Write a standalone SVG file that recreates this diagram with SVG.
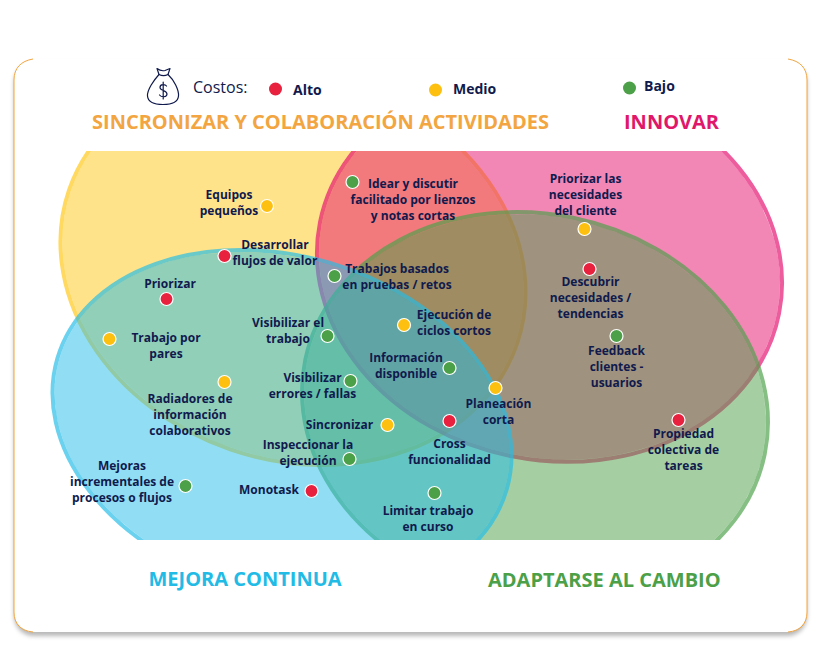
<svg xmlns="http://www.w3.org/2000/svg" width="820" height="654" viewBox="0 0 820 654">
<style>
text{font-family:"Open Sans","Noto Sans","Liberation Sans",sans-serif;font-weight:700;fill:#101a4d}
.l{font-size:12px;text-anchor:middle}
.lg{font-size:14px}
.t{font-size:20px}
.f{fill-opacity:.5}
.s{fill:none;stroke-width:4;stroke-opacity:.68}
.d{stroke:#fff;stroke-width:1.2}
.r{fill:#e8213f}.y{fill:#fdc010}.g{fill:#4ca048}
.i{fill:none;stroke:#101a4d;stroke-width:1.2;stroke-linecap:round;stroke-linejoin:round}
</style>
<defs>
<filter id="sh" x="-5%" y="-5%" width="110%" height="110%"><feDropShadow dx="0" dy="4" stdDeviation="2" flood-color="#000" flood-opacity=".28"/></filter>
<clipPath id="cl"><rect x="0" y="151" width="820" height="389"/></clipPath>
</defs>
<rect width="820" height="654" fill="#fff"/>
<g id="card">
<rect x="14" y="59" width="793" height="573" rx="20" fill="#fff" filter="url(#sh)"/>
<path d="M33 59C21 61 14 68 14 80V612C14 624 21 631 33 632M788 59C800 61 807 68 807 80V612C807 624 800 631 788 632" fill="none" stroke="#f2a540" stroke-width="1"/>
</g>
<g id="venn" clip-path="url(#cl)">
<g transform="rotate(19 293 267)"><ellipse class="f" cx="293" cy="267" rx="234.800" ry="190.900" fill="#ffc715"/><ellipse class="s" cx="293" cy="267" rx="236.800" ry="192.900" stroke="#ffc715"/></g>
<g transform="rotate(11.25 549.500 268)"><ellipse class="f" cx="549.500" cy="268" rx="232" ry="190" fill="#e5106e"/><ellipse class="s" cx="549.500" cy="268" rx="234" ry="192" stroke="#e5106e"/></g>
<g transform="rotate(11.650 535 407)"><ellipse class="f" cx="535" cy="407" rx="232.500" ry="191" fill="#4ca048"/><ellipse class="s" cx="535" cy="407" rx="234.500" ry="193" stroke="#4ca048"/></g>
<g transform="rotate(16.300 282 424)"><ellipse class="f" cx="282" cy="424" rx="232" ry="166" fill="#24bce8"/><ellipse class="s" cx="282" cy="424" rx="234" ry="168" stroke="#24bce8"/></g>
</g>
<g id="legend">
<g id="bag">
<path class="i" d="M157 68.500C159 70 163 71 165 70.500L170 68.500L168 74.500C174 80 179 90 178.500 96C178 102 172 104.500 163 104.500C154 104.500 148 102 147.500 96C147 90 154 80 159 74.500Z"/>
<path class="i" d="M159 74.500C162 76 165 76 168 74.500"/>
<path class="i" d="M166.500 86C165 84 160 84 160 87.500C160 91 167 90 167 94C167 97.500 161.500 97.500 159.500 95M163.200 82V99"/>
</g>
<text x="193" y="93" style="font-size:16px;font-weight:400">Costos:</text>
<circle cx="275.500" cy="89" r="6.500" class="r"/><text class="lg" x="293" y="95">Alto</text>
<circle cx="435.500" cy="90" r="6.500" class="y"/><text class="lg" x="453" y="94">Medio</text>
<circle cx="629.500" cy="88" r="6.500" class="g"/><text class="lg" x="644" y="91">Bajo</text>
</g>
<g id="titles">
<text class="t" x="92" y="129" style="fill:#f2a540">SINCRONIZAR Y COLABORACIÓN ACTIVIDADES</text>
<text class="t" x="624" y="129" style="fill:#e0176a">INNOVAR</text>
<text class="t" x="148.500" y="586" style="fill:#22bbe6">MEJORA CONTINUA</text>
<text class="t" x="488" y="587" style="fill:#4ca048">ADAPTARSE AL CAMBIO</text>
</g>
<g id="n1"><circle class="d y" cx="267" cy="206" r="6.500"/><text class="l" x="229" y="199">Equipos</text><text class="l" x="229" y="215">pequeños</text></g>
<g id="n2"><circle class="d g" cx="352.500" cy="182" r="6.500"/><text class="l" x="413" y="188">Idear y discutir</text><text class="l" x="413" y="204">facilitado por lienzos</text><text class="l" x="413" y="220">y notas cortas</text></g>
<g id="n3"><circle class="d r" cx="224.500" cy="256" r="6.500"/><text class="l" x="275" y="249">Desarrollar</text><text class="l" x="275" y="265">flujos de valor</text></g>
<g id="n4"><circle class="d g" cx="334.500" cy="276" r="6.500"/><text class="l" x="397" y="273">Trabajos basados</text><text class="l" x="397" y="289">en pruebas / retos</text></g>
<g id="n5"><circle class="d r" cx="166.500" cy="299" r="6.500"/><text class="l" x="170" y="288">Priorizar</text></g>
<g id="n6"><circle class="d y" cx="109.500" cy="339" r="6.500"/><text class="l" x="166" y="342">Trabajo por</text><text class="l" x="166" y="358">pares</text></g>
<g id="n7"><circle class="d g" cx="327.500" cy="336" r="6.500"/><text class="l" x="288" y="327">Visibilizar el</text><text class="l" x="288" y="343">trabajo</text></g>
<g id="n8"><circle class="d y" cx="404" cy="325" r="6.500"/><text class="l" x="454" y="319">Ejecución de</text><text class="l" x="454" y="335">ciclos cortos</text></g>
<g id="n9"><circle class="d g" cx="449.500" cy="368" r="6.500"/><text class="l" x="406" y="362">Información</text><text class="l" x="406" y="378">disponible</text></g>
<g id="n10"><circle class="d g" cx="350.500" cy="381" r="6.500"/><text class="l" x="312.500" y="382">Visibilizar</text><text class="l" x="312.500" y="398">errores / fallas</text></g>
<g id="n11"><circle class="d y" cx="224.500" cy="382" r="6.500"/><text class="l" x="190" y="403">Radiadores de</text><text class="l" x="190" y="419">información</text><text class="l" x="190" y="435">colaborativos</text></g>
<g id="n12"><circle class="d y" cx="387.500" cy="425" r="6.500"/><text class="l" x="339.500" y="429">Sincronizar</text></g>
<g id="n13"><circle class="d g" cx="349.500" cy="459" r="6.500"/><text class="l" x="308" y="449">Inspeccionar la</text><text class="l" x="308" y="465">ejecución</text></g>
<g id="n14"><circle class="d y" cx="495.500" cy="388" r="6.500"/><text class="l" x="498.500" y="408">Planeación</text><text class="l" x="498.500" y="424">corta</text></g>
<g id="n15"><circle class="d r" cx="449.500" cy="421" r="6.500"/><text class="l" x="449.500" y="448">Cross</text><text class="l" x="449.500" y="464">funcionalidad</text></g>
<g id="n16"><circle class="d g" cx="185.500" cy="486" r="6.500"/><text class="l" x="122" y="470">Mejoras</text><text class="l" x="122" y="486">incrementales de</text><text class="l" x="122" y="502">procesos o flujos</text></g>
<g id="n17"><circle class="d r" cx="311.500" cy="491" r="6.500"/><text class="l" x="269" y="494">Monotask</text></g>
<g id="n18"><circle class="d g" cx="434.500" cy="493" r="6.500"/><text class="l" x="428" y="515">Limitar trabajo</text><text class="l" x="428" y="531">en curso</text></g>
<g id="n19"><circle class="d y" cx="584.500" cy="229" r="6.500"/><text class="l" x="585.500" y="183">Priorizar las</text><text class="l" x="585.500" y="199">necesidades</text><text class="l" x="585.500" y="215">del cliente</text></g>
<g id="n20"><circle class="d r" cx="589.500" cy="269" r="6.500"/><text class="l" x="590.500" y="286">Descubrir</text><text class="l" x="590.500" y="302">necesidades /</text><text class="l" x="590.500" y="318">tendencias</text></g>
<g id="n21"><circle class="d g" cx="616.500" cy="336" r="6.500"/><text class="l" x="616.500" y="355">Feedback</text><text class="l" x="616.500" y="371">clientes -</text><text class="l" x="616.500" y="387">usuarios</text></g>
<g id="n22"><circle class="d r" cx="678.500" cy="420" r="6.500"/><text class="l" x="683.500" y="438">Propiedad</text><text class="l" x="683.500" y="454">colectiva de</text><text class="l" x="683.500" y="470">tareas</text></g>
</svg>
